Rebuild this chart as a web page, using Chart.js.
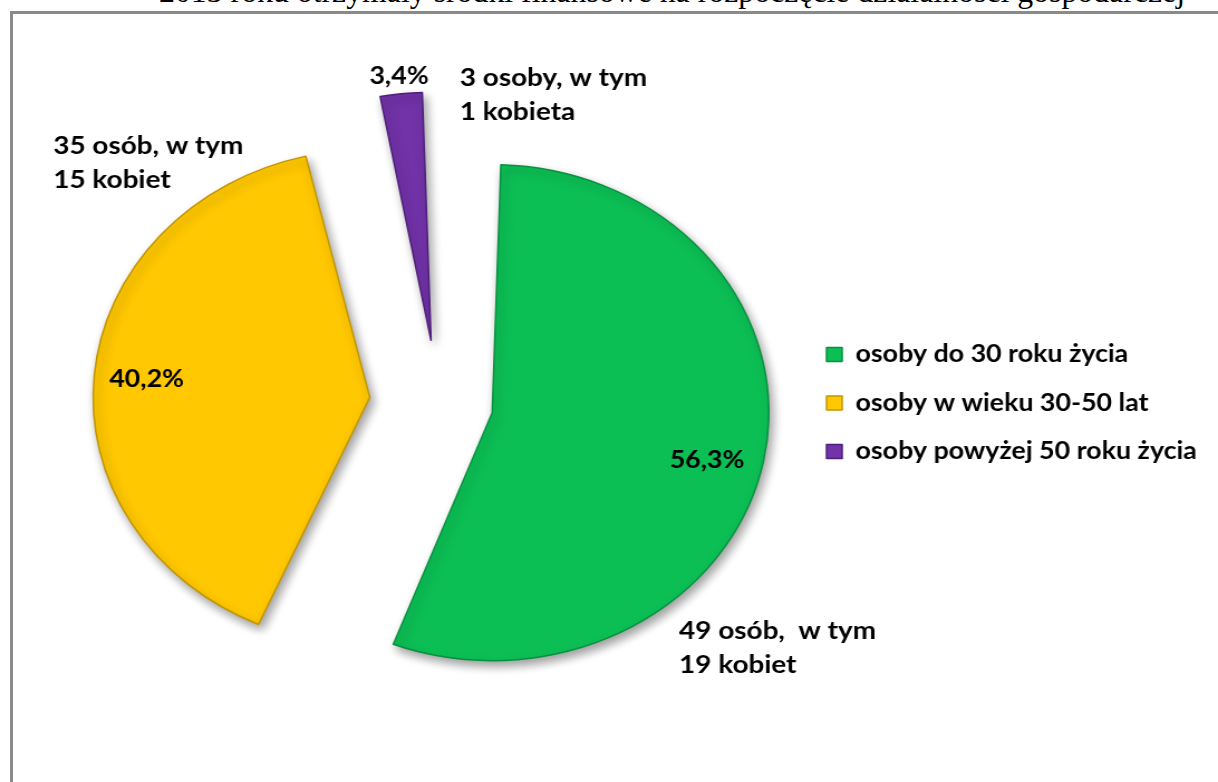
<!DOCTYPE html>
<html lang="pl">
<head>
<meta charset="utf-8">
<title>Osoby, które otrzymały środki na rozpoczęcie działalności</title>
<script src="https://cdn.jsdelivr.net/npm/chart.js@4.4.1/dist/chart.umd.min.js"></script>
<style>
    html, body { margin: 0; padding: 0; background: #fff; overflow: hidden; }
    body { width: 1218px; height: 782px; position: relative; }
    #naglowek {
        position: absolute; left: 159px; top: -24px; white-space: nowrap;
        font-family: "Liberation Serif", "Times New Roman", serif; font-size: 31.8px; line-height: 32px; color: #000;
    }
    #ramka {
        position: absolute; left: 10px; top: 11px; width: 1220px; height: 790px;
        border-left: 3px solid #8a8a8a; border-top: 3px solid #8a8a8a;
    }
    /* wykres rozciągnięty w poziomie, tak jak obrazek wklejony do dokumentu */
    #wykres {
        position: absolute; left: 0; top: 0; width: 1092px; height: 782px;
        transform: scaleX(1.1154); transform-origin: 0 0;
    }
</style>
</head>
<body>
<div id="naglowek">2013 roku otrzymały środki finansowe na rozpoczęcie działalności gospodarczej</div>
<div id="ramka"></div>
<div id="wykres"><canvas id="wiekChart"></canvas></div>

<script>
const kategorie = ['osoby do 30 roku życia', 'osoby w wieku 30-50 lat', 'osoby powyżej 50 roku życia'];
const liczbaOsob = [49, 35, 3];
const opisyOsob = ['49 osób,  w tym', '35 osób, w tym', '3 osoby, w tym'];
const opisyKobiet = ['19 kobiet', '15 kobiet', '1 kobieta'];

const PROMIEN = 248;
const FONT = 'Lato, "Open Sans", sans-serif';

function procent(i) {
    const suma = liczbaOsob.reduce((a, b) => a + b, 0);
    return (liczbaOsob[i] / suma * 100).toFixed(1).replace('.', ',') + '%';
}

// Chart.js przy offset powiększa promień wysuniętego wycinka - tu wyrównujemy promienie
const wyrownajPromien = {
    id: 'wyrownajPromien',
    afterDatasetUpdate(chart, args) {
        const offsety = chart.data.datasets[0].offset;
        args.meta.data.forEach((luk, i) => {
            const t = offsety[i] / 4;
            const c = luk.endAngle - luk.startAngle;
            const fix = 1 - Math.sin(Math.min(Math.PI, c));
            luk.outerRadius = PROMIEN - t * fix;
        });
    }
};

// miękki cień pod wycinkami
const cien = {
    id: 'cien',
    beforeDatasetsDraw(chart) {
        const ctx = chart.ctx;
        ctx.save();
        ctx.shadowColor = 'rgba(0, 0, 0, 0.38)';
        ctx.shadowBlur = 10;
        ctx.shadowOffsetX = 3;
        ctx.shadowOffsetY = 5;
    },
    afterDatasetsDraw(chart) {
        chart.ctx.restore();
    }
};

// procenty i opisy liczby osób przy wycinkach
const etykiety = {
    id: 'etykiety',
    afterDraw(chart) {
        const ctx = chart.ctx;
        const offsety = chart.data.datasets[0].offset;
        // [przesunięcie kąta procentu, promień procentu, kąt opisu (stopnie), promień opisu]
        // wszystko liczone od wierzchołka wycinka
        const ustawienia = [
            [2.5, 0.80, 52.5, 1.11],
            [0, 0.81, 221.6, 1.53],
            [0, 1.07, -84.4, 1.065]
        ];
        chart.getDatasetMeta(0).data.forEach((luk, i) => {
            const { x, y, startAngle, endAngle } = luk.getProps(['x', 'y', 'startAngle', 'endAngle'], true);
            const srodek = (startAngle + endAngle) / 2;
            const t = offsety[i] / 4;
            const wx = x + Math.cos(srodek) * t;
            const wy = y + Math.sin(srodek) * t;
            const [dk, rp, katOpisu, ro] = ustawienia[i];
            const kp = srodek + dk * Math.PI / 180;

            ctx.save();
            ctx.fillStyle = '#000';
            ctx.textBaseline = 'middle';
            ctx.textAlign = 'center';
            ctx.font = 'bold 24px ' + FONT;
            ctx.fillText(procent(i), wx + Math.cos(kp) * PROMIEN * rp, wy + Math.sin(kp) * PROMIEN * rp);

            const kat = katOpisu * Math.PI / 180;
            const ox = wx + Math.cos(kat) * PROMIEN * ro;
            const oy = wy + Math.sin(kat) * PROMIEN * ro;
            ctx.textAlign = 'left';
            ctx.font = 'bold 25px ' + FONT;
            ctx.fillText(opisyOsob[i], ox, oy);
            ctx.fillText(opisyKobiet[i], ox, oy + 34);
            ctx.restore();
        });
    }
};

const ctx = document.getElementById('wiekChart').getContext('2d');
new Chart(ctx, {
    type: 'pie',
    data: {
        labels: kategorie,
        datasets: [{
            data: liczbaOsob,
            backgroundColor: ['#0cbf55', '#ffc800', '#7232a8'],
            borderColor: ['#07913f', '#c29500', '#4e1f7a'],
            borderWidth: 1.5,
            borderJoinStyle: 'round',
            offset: [196, 248, 252]
        }]
    },
    options: {
        responsive: true,
        maintainAspectRatio: false,
        animation: false,
        radius: PROMIEN,
        layout: { padding: { left: 70, top: 24, right: 9, bottom: 0 } },
        plugins: {
            legend: {
                position: 'right',
                labels: {
                    boxWidth: 14,
                    boxHeight: 14,
                    padding: 24.5,
                    color: '#000',
                    font: { family: FONT, size: 24, weight: 'bold' }
                }
            },
            tooltip: { enabled: false }
        }
    },
    plugins: [wyrownajPromien, cien, etykiety]
});
</script>
</body>
</html>
